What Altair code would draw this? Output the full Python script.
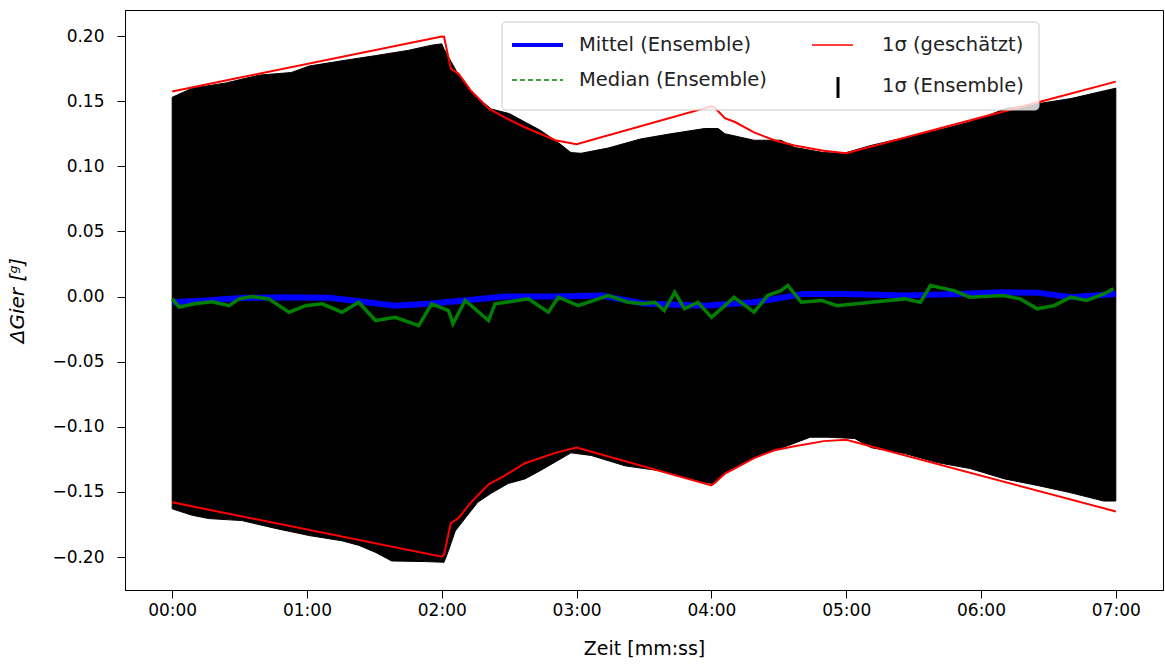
import altair as alt
import pandas as pd

# ---------------- data ----------------
# 1 sigma (estimated) – red lines
red_t = [0, 120, 121, 124, 127.5, 133, 141, 148, 157, 170.5, 180, 240, 241.5, 246, 250.5, 259, 268, 277, 290, 300, 420]
red_up = [0.1575, 0.1997, 0.1995, 0.175, 0.171, 0.158, 0.144, 0.1375, 0.130, 0.120, 0.117, 0.146, 0.145, 0.137, 0.134, 0.126, 0.120, 0.116, 0.112, 0.110, 0.165]
red_lo = [-0.158, -0.1997, -0.198, -0.174, -0.170, -0.158, -0.144, -0.1375, -0.128, -0.120, -0.116, -0.145, -0.143, -0.136, -0.132, -0.124, -0.118, -0.115, -0.111, -0.110, -0.165]

# 1 sigma (ensemble) – black band, upper and lower envelopes
ens_up_t = [0, 9, 24, 38.6, 53, 61, 75.5, 90.6, 105, 115.5, 120, 121, 127.5, 135, 142, 150, 157, 164, 172, 177.5,
            182, 194, 208.5, 222, 237, 243, 246, 259, 271, 277, 290, 299, 311, 326, 340.5, 355, 363, 370.5, 385, 400, 415, 420]
ens_up = [0.153, 0.160, 0.164, 0.170, 0.172, 0.177, 0.181, 0.185, 0.189, 0.193, 0.194, 0.190, 0.170, 0.154, 0.144, 0.1405, 0.134, 0.1275, 0.118, 0.1105,
          0.110, 0.114, 0.121, 0.125, 0.129, 0.129, 0.125, 0.120, 0.120, 0.1145, 0.1105, 0.110, 0.116, 0.122, 0.1275, 0.134, 0.139, 0.144, 0.148, 0.152, 0.158, 0.160]
ens_lo_t = [0, 9, 16.4, 31, 46, 61, 75.5, 83, 90.6, 97.7, 112.7, 121, 123, 126, 130.5, 136, 142, 149.6, 157, 164, 171.5, 177.5,
            186.5, 201.6, 216, 222, 237, 241.6, 246, 259, 274, 284, 291.8, 303.8, 311, 326, 340.5, 355, 370.5, 385, 399.6, 414.6, 420]
ens_lo = [-0.163, -0.168, -0.1705, -0.172, -0.178, -0.1835, -0.1875, -0.191, -0.1965, -0.203, -0.2035, -0.204, -0.195, -0.180, -0.170, -0.158, -0.151, -0.1435, -0.140, -0.1335, -0.126, -0.120,
          -0.122, -0.130, -0.1335, -0.136, -0.143, -0.1435, -0.135, -0.1235, -0.1145, -0.108, -0.108, -0.109, -0.116, -0.1205, -0.1275, -0.132, -0.140, -0.145, -0.1505, -0.157, -0.157]

# mean (ensemble) – blue
mean_t = [0, 15, 32.7, 50, 69.7, 85, 99, 114, 130, 148, 170, 191, 210, 237, 259, 281, 300, 326, 350, 370, 385, 400, 420]
mean_v = [-0.0044, -0.003, -0.001, -0.0005, -0.001, -0.004, -0.007, -0.0056, -0.003, 0.0, 0.0, 0.0008, -0.0054, -0.007, -0.0044, 0.002, 0.002, 0.0008, 0.002, 0.0033, 0.003, -0.0005, 0.002]

# median (ensemble) – green
med_t = [0, 3.1, 10.5, 17.8, 25.3, 29.8, 35.5, 43, 52, 59.4, 66.7, 75.6, 83, 90.5, 99.3, 109.7, 115.5, 123, 125, 130.4,
         140.8, 143.7, 158.5, 167.4, 171.9, 180.7, 194, 203, 210, 214.8, 219, 223.7, 228, 234, 240, 246, 250, 259, 265, 271,
         274, 280, 289, 296, 311, 326, 333, 337.5, 348, 355, 370, 377.5, 385, 392.5, 400, 407, 414.6, 419]
med_v = [-0.0018, -0.008, -0.0054, -0.004, -0.007, -0.0018, 0.0, -0.0018, -0.012, -0.007, -0.0056, -0.012, -0.0044, -0.0184, -0.016, -0.0223, -0.0056, -0.0108, -0.021, -0.003,
         -0.0184, -0.0056, -0.0018, -0.012, -0.0005, -0.007, 0.0008, -0.0044, -0.0056, -0.0044, -0.0108, 0.0033, -0.0094, -0.0044, -0.016, -0.007, -0.0005, -0.012, 0.0008, 0.0046,
         0.0085, -0.0044, -0.003, -0.007, -0.0044, -0.0018, -0.0044, 0.0085, 0.0046, -0.0005, 0.0008, -0.0018, -0.0094, -0.007, -0.0005, -0.003, 0.002, 0.006]

x_ticks = [0, 60, 120, 180, 240, 300, 360, 420]
y_ticks = [-0.20, -0.15, -0.10, -0.05, 0.0, 0.05, 0.10, 0.15, 0.20]

legend_labels = ["Mittel (Ensemble)", "Median (Ensemble)", "1σ (geschätzt)", "1σ (Ensemble)"]

# ---------------- chart ----------------
FONT = "DejaVu Sans"

xenc = alt.X("t:Q",
             scale=alt.Scale(domain=[-21, 441], nice=False, zero=False),
             axis=alt.Axis(values=x_ticks, labelExpr="utcFormat(datum.value*1000, '%M:%S')",
                           title="Zeit [mm:ss]", grid=False, tickSize=8, labelPadding=4,
                           titlePadding=21, labelFontSize=17, titleFontSize=19,
                           labelFont=FONT, titleFont=FONT, labelColor="#000", titleColor="#000",
                           titleFontWeight="normal", domainColor="#000", tickColor="#000"))

def yenc(field):
    return alt.Y(f"{field}:Q",
                 scale=alt.Scale(domain=[-0.2253, 0.2200], nice=False, zero=False),
                 axis=alt.Axis(values=y_ticks, format=".2f", title="ΔGier [ᵍ]", grid=False,
                               tickSize=8, labelPadding=13, titlePadding=24,
                               labelFontSize=17, titleFontSize=20, titleFontStyle="italic",
                               labelFont=FONT, titleFont=FONT, labelColor="#000", titleColor="#000",
                               titleFontWeight="normal", domainColor="#000", tickColor="#000"))

df_eu = pd.DataFrame({"t": ens_up_t, "v": ens_up})
df_el = pd.DataFrame({"t": ens_lo_t, "v": ens_lo})
df_red = pd.DataFrame({"t": red_t, "up": red_up, "lo": red_lo})
df_mean = pd.DataFrame({"t": mean_t, "v": mean_v})
df_med = pd.DataFrame({"t": med_t, "v": med_v})

area_up = alt.Chart(df_eu).mark_area(color="black", stroke="black", strokeWidth=1).encode(x=xenc, y=yenc("v"))
area_lo = alt.Chart(df_el).mark_area(color="black", stroke="black", strokeWidth=1).encode(x=xenc, y=yenc("v"))
mean_line = alt.Chart(df_mean).mark_line(color="#0000ff", strokeWidth=6).encode(x=xenc, y=yenc("v"))
med_line = alt.Chart(df_med).mark_line(color="#008000", strokeWidth=3.5).encode(x=xenc, y=yenc("v"))
red_u = alt.Chart(df_red).mark_line(color="#ff0000", strokeWidth=2).encode(x=xenc, y=yenc("up"))
red_l = alt.Chart(df_red).mark_line(color="#ff0000", strokeWidth=2).encode(x=xenc, y=yenc("lo"))

# ---------------- legend (drawn inside the plot) ----------------
leg_df = pd.DataFrame({"label": legend_labels})
one = pd.DataFrame({"a": [0]})

leg_box = alt.Chart(one).mark_rect(fill="white", fillOpacity=0.8, stroke="#cccccc", strokeWidth=1,
                                   cornerRadius=4).encode(
    x=alt.value(377), x2=alt.value(914), y=alt.value(12), y2=alt.value(100))
leg_blue = alt.Chart(one).mark_rule(color="#0000ff", strokeWidth=4).encode(
    x=alt.value(387), x2=alt.value(438), y=alt.value(35))
leg_green = alt.Chart(one).mark_rule(color="#008000", strokeWidth=1.5, strokeDash=[5, 3]).encode(
    x=alt.value(387), x2=alt.value(438), y=alt.value(70))
leg_red = alt.Chart(one).mark_rule(color="#ff0000", strokeWidth=1.5).encode(
    x=alt.value(687), x2=alt.value(728), y=alt.value(35))
leg_bar = alt.Chart(one).mark_rule(color="black", strokeWidth=3).encode(
    x=alt.value(713), y=alt.value(67), y2=alt.value(88))

def leg_text(i, x, y):
    return alt.Chart(leg_df.iloc[[i]]).mark_text(align="left", baseline="middle", fontSize=19.5,
                                                 font=FONT, color="#222").encode(
        x=alt.value(x), y=alt.value(y), text="label:N")

legend_layers = [leg_box, leg_blue, leg_green, leg_red, leg_bar,
                 leg_text(0, 454, 35), leg_text(1, 454, 70), leg_text(2, 757, 35), leg_text(3, 757, 76)]

chart = alt.layer(area_up, area_lo, mean_line, med_line, red_u, red_l, *legend_layers).properties(
    width=1038, height=580,
    autosize=alt.AutoSizeParams(type="none"),
    padding={"left": 125, "top": 10, "right": 2, "bottom": 75},
    background="white",
).configure_view(stroke="black", strokeWidth=1)

chart.save("out.html", embed_options={"renderer": "svg", "actions": False})
